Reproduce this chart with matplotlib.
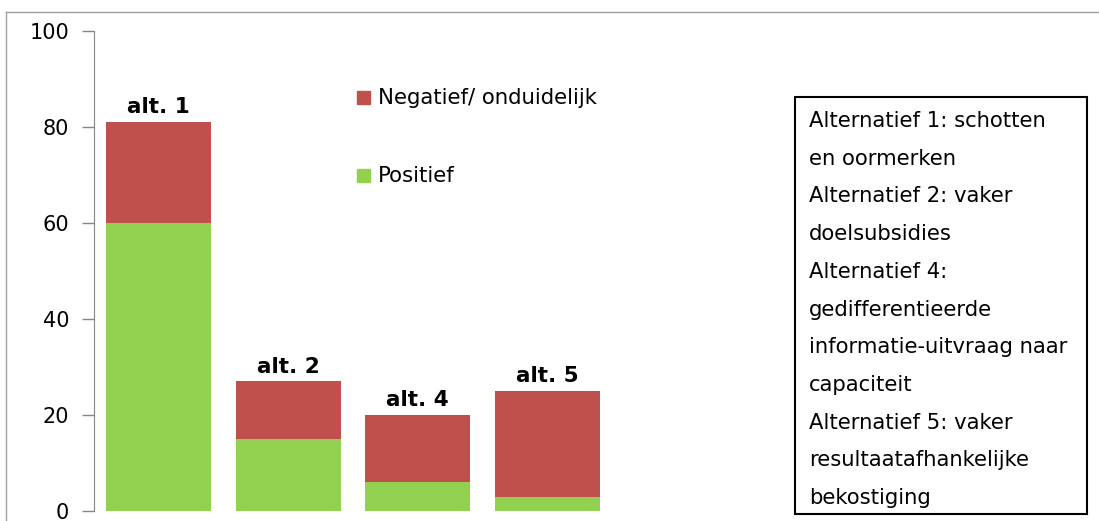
import matplotlib
matplotlib.use("Agg")
import matplotlib.pyplot as plt
from matplotlib.patches import Rectangle

categories = ["alt. 1", "alt. 2", "alt. 4", "alt. 5"]
positief = [60, 15, 6, 3]
negatief = [21, 12, 14, 22]
yticks = [0, 20, 40, 60, 80, 100]
legend_labels = ["Negatief/ onduidelijk", "Positief"]
box_lines = [
    "Alternatief 1: schotten",
    "en oormerken",
    "Alternatief 2: vaker",
    "doelsubsidies",
    "Alternatief 4:",
    "gedifferentieerde",
    "informatie-uitvraag naar",
    "capaciteit",
    "Alternatief 5: vaker",
    "resultaatafhankelijke",
    "bekostiging",
]

GREEN = "#92d050"
RED = "#c0504d"

W, H = 1099, 521
fig = plt.figure(figsize=(W / 100, H / 100), dpi=100)
plt.rcParams["font.family"] = ["DejaVu Sans"]

# outer frame (top and left light grey lines)
fig.add_artist(plt.Line2D([6 / W, 1], [1 - 12 / H, 1 - 12 / H], color="#a0a0a0", lw=1))
fig.add_artist(plt.Line2D([6 / W, 6 / W], [0, 1 - 12 / H], color="#a0a0a0", lw=1))

ax_left, ax_right = 94, 612
ax_top, ax_bottom = 31, 511
ax = fig.add_axes([ax_left / W, 1 - ax_bottom / H, (ax_right - ax_left) / W, (ax_bottom - ax_top) / H])
x = list(range(len(categories)))
bw = 0.81
ax.bar(x, positief, width=bw, color=GREEN, label=legend_labels[1])
ax.bar(x, negatief, width=bw, bottom=positief, color=RED, label=legend_labels[0])
for xi, p, n, c in zip(x, positief, negatief, categories):
    ax.text(xi, p + n + 1.0, c, ha="center", va="bottom", fontsize=15.5, fontweight="bold")

ax.set_xlim(-0.5, len(categories) - 0.5)
ax.set_ylim(0, 100)
ax.set_yticks(yticks)
ax.tick_params(axis="y", direction="out", length=9, width=1, color="#868686", labelsize=15, pad=9)
ax.set_xticks([])
for s in ["top", "right", "bottom"]:
    ax.spines[s].set_visible(False)
ax.spines["left"].set_color("#868686")
ax.spines["left"].set_clip_on(False)

# legend
leg_items = [(legend_labels[0], RED, 98), (legend_labels[1], GREEN, 176)]
for lab, col, yc in leg_items:
    fig.add_artist(Rectangle((357 / W, 1 - (yc + 6) / H), 13 / W, 13 / H, color=col, transform=fig.transFigure))
    fig.text(378 / W, 1 - yc / H, lab, fontsize=15.3, va="center", ha="left")

# text box
fig.add_artist(Rectangle((795 / W, 1 - 514 / H), (1087 - 795) / W, (514 - 97) / H,
                         fill=False, edgecolor="black", lw=1.5, transform=fig.transFigure))
for i, line in enumerate(box_lines):
    y = 121 + i * 37.7
    fig.text(809 / W, 1 - y / H, line, fontsize=15.2, va="center", ha="left")

fig.savefig("out.png", dpi=100)
